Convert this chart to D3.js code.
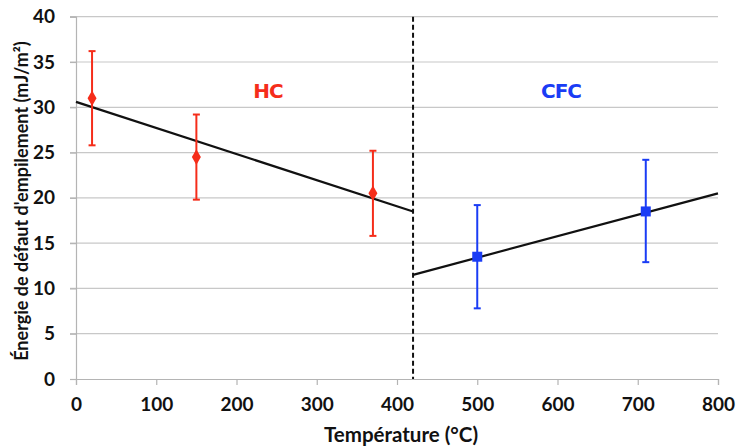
<!DOCTYPE html>
<html><head><meta charset="utf-8">
<script src="https://cdn.jsdelivr.net/npm/d3@7"></script>
<style>body{margin:0;background:#fff}svg{display:block}</style>
</head><body><svg id="c" width="736" height="447"></svg>
<script>
const xTicks = [0,100,200,300,400,500,600,700,800];
const yTicks = [0,5,10,15,20,25,30,35,40];
const hcT = [20,150,370];
const hcE = [31,24.5,20.5];
const hcLo = [25.8,19.8,15.8];
const hcHi = [36.2,29.2,25.2];
const cfcT = [500,710];
const cfcE = [13.5,18.5];
const cfcLo = [7.8,12.9];
const cfcHi = [19.2,24.2];
const hcFitT = [0,420];
const hcFitE = [30.6,18.5];
const cfcFitT = [420,800];
const cfcFitE = [11.5,20.5];
const transitionT = 420;
const red = "#f52d1a", blue = "#1a3cf5";
const FONT = "Lato, 'Open Sans', sans-serif";

const svg = d3.select("#c");
const x = d3.scaleLinear().domain([0,800]).range([76,718]);
const y = d3.scaleLinear().domain([0,40]).range([379,16.7]);

svg.append("g").selectAll("line").data(yTicks.filter(d=>d>0)).join("line")
  .attr("x1",70).attr("x2",718).attr("y1",d=>y(d)).attr("y2",d=>y(d))
  .attr("stroke","#c8c8c8").attr("stroke-width",1.2);

function styleAxis(g){
  g.select(".domain").attr("stroke","#b4b4b4").attr("stroke-width",1.2);
  g.selectAll(".tick line").attr("stroke","#b4b4b4").attr("stroke-width",1.2);
  g.selectAll("text").style("font-family",FONT).style("font-weight","bold").style("font-size","19px").attr("fill","#111");
}
const xa = svg.append("g").attr("transform",`translate(0,${y(0)})`)
  .call(d3.axisBottom(x).tickValues(xTicks).tickSize(6).tickPadding(13));
styleAxis(xa);
const ya = svg.append("g").attr("transform",`translate(${x(0)},0)`)
  .call(d3.axisLeft(y).tickValues(yTicks).tickSize(6).tickPadding(15));
styleAxis(ya);

svg.append("line").attr("x1",x(transitionT)).attr("x2",x(transitionT))
  .attr("y1",y(40)).attr("y2",y(0)).attr("stroke","#111").attr("stroke-width",2)
  .attr("stroke-dasharray","5,3");

const line = d3.line().x(d=>x(d[0])).y(d=>y(d[1]));
svg.append("path").attr("d",line(d3.zip(hcFitT,hcFitE))).attr("fill","none").attr("stroke","#111").attr("stroke-width",2.2);
svg.append("path").attr("d",line(d3.zip(cfcFitT,cfcFitE))).attr("fill","none").attr("stroke","#111").attr("stroke-width",2.2);

function series(T,E,Lo,Hi,color,shape){
  const g = svg.append("g");
  const data = T.map((t,i)=>({t,e:E[i],lo:Lo[i],hi:Hi[i]}));
  g.selectAll("line.v").data(data).join("line").attr("class","v")
    .attr("x1",d=>x(d.t)).attr("x2",d=>x(d.t)).attr("y1",d=>y(d.lo)).attr("y2",d=>y(d.hi))
    .attr("stroke",color).attr("stroke-width",2);
  ["lo","hi"].forEach(k=>{
    g.selectAll("line."+k).data(data).join("line").attr("class",k)
      .attr("x1",d=>x(d.t)-3.5).attr("x2",d=>x(d.t)+3.5).attr("y1",d=>y(d[k])).attr("y2",d=>y(d[k]))
      .attr("stroke",color).attr("stroke-width",2);
  });
  g.selectAll("path").data(data).join("path")
    .attr("transform",d=>`translate(${x(d.t)},${y(d.e)})`)
    .attr("d",d3.symbol().type(shape).size(shape===d3.symbolDiamond?70:100)())
    .attr("fill",color);
}
series(hcT,hcE,hcLo,hcHi,red,d3.symbolDiamond);
series(cfcT,cfcE,cfcLo,cfcHi,blue,d3.symbolSquare);

function label(txt,cx,color){
  svg.append("text").attr("x",cx).attr("y",97.5).attr("text-anchor","middle")
    .style("font-family","'DejaVu Sans', sans-serif").style("font-weight","bold").style("font-size","20px")
    .style("letter-spacing","-1px").attr("fill",color).text(txt);
}
label("HC",268,red);
label("CFC",561,blue);

svg.append("text").attr("x",401).attr("y",442).attr("text-anchor","middle")
  .style("font-family",FONT).style("font-weight","bold").style("font-size","20.5px").attr("fill","#111").text("Température (°C)");
svg.append("text").attr("transform","translate(28,201) rotate(-90)").attr("text-anchor","middle")
  .style("font-family",FONT).style("font-weight","bold").style("font-size","18px").attr("fill","#111").text("Énergie de défaut d'empilement (mJ/m²)");
</script></body></html>
